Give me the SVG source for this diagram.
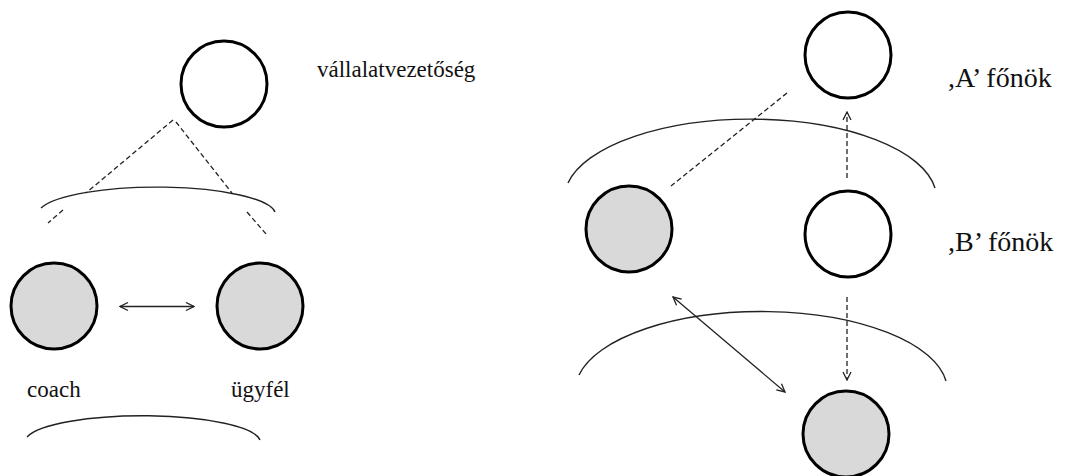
<svg xmlns="http://www.w3.org/2000/svg" width="1072" height="476" viewBox="0 0 1072 476">
  <style>
    .node { stroke: #000; stroke-width: 3; }
    .white { fill: #fff; }
    .gray { fill: #d9d9d9; }
    .label { font-family: 'Liberation Serif', 'Times New Roman', serif; font-size: 23px; fill: #111; }
    .label.big { font-size: 28px; }
    .arc { fill: none; stroke: #222; stroke-width: 1.4; }
    .dash { fill: none; stroke: #222; stroke-width: 1.3; stroke-dasharray: 5 3; }
    .solid { fill: none; stroke: #222; stroke-width: 1.3; }
  </style>
  <defs>
    <marker id="open" viewBox="0 0 10 10" refX="9" refY="5" markerWidth="10" markerHeight="10" markerUnits="userSpaceOnUse" orient="auto-start-reverse">
      <path d="M1,1 L9,5 L1,9" fill="none" stroke="#222" stroke-width="1.3"/>
    </marker>
  </defs>

  <rect width="1072" height="476" fill="#fff"/>

  <!-- group boundaries -->
  <g id="boundaries">
    <path class="arc" d="M41,208 A119,27.5 0 0 1 275,212"/>
    <path class="arc" d="M27,437 A118,26.7 0 0 1 260,440"/>
    <path class="arc" d="M568,183 A186,79 0 0 1 935,188"/>
    <path class="arc" d="M579,375 A186,79 0 0 1 946,381"/>
  </g>

  <!-- connectors -->
  <g id="connectors">
    <path class="dash" d="M173,120 L86,193 M63,210 L48,223"/>
    <path class="dash" d="M176,122 L232,193 M247,212 L266,234"/>
    <line class="solid" x1="120" y1="306.5" x2="194" y2="306.5" marker-start="url(#open)" marker-end="url(#open)"/>
    <line class="dash" x1="787" y1="93" x2="671" y2="186"/>
    <line class="dash" x1="847" y1="178" x2="847" y2="112" marker-end="url(#open)"/>
    <line class="dash" x1="847" y1="297" x2="847" y2="380" marker-end="url(#open)"/>
    <line class="solid" x1="673" y1="297" x2="785" y2="392" marker-start="url(#open)" marker-end="url(#open)"/>
  </g>

  <g id="management">
    <circle class="node white" cx="224" cy="84" r="43"/>
    <text class="label" x="317" y="77">vállalatvezetőség</text>
  </g>
  <g id="coach">
    <circle class="node gray" cx="54" cy="306" r="43"/>
    <text class="label" x="27" y="397">coach</text>
  </g>
  <g id="client">
    <circle class="node gray" cx="260" cy="306" r="43"/>
    <text class="label" x="231" y="397">ügyfél</text>
  </g>

  <g id="boss-a">
    <circle class="node white" cx="848" cy="55" r="43"/>
    <text class="label big" x="948" y="87">,A’ főnök</text>
  </g>
  <g id="boss-b">
    <circle class="node white" cx="848" cy="234" r="43"/>
    <text class="label big" x="948" y="251">,B’ főnök</text>
  </g>
  <g id="coach-right">
    <circle class="node gray" cx="629" cy="229" r="43"/>
  </g>
  <g id="client-right">
    <circle class="node gray" cx="846" cy="434" r="43"/>
  </g>
</svg>
